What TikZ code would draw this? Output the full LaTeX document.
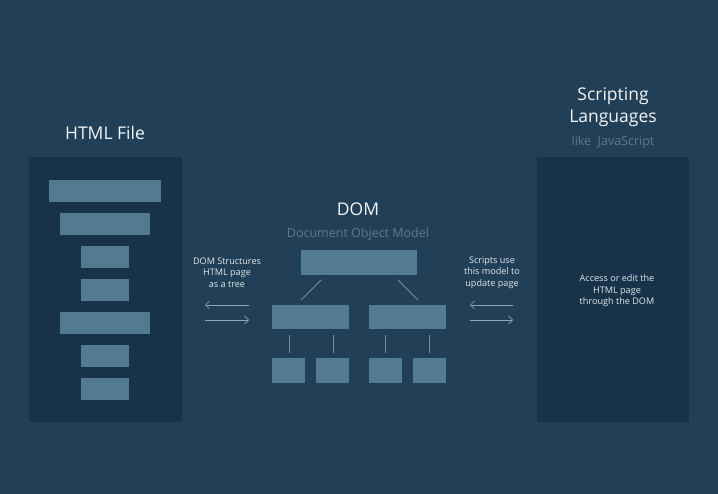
\documentclass[tikz,border=0pt]{standalone}
\usepackage{fontspec}
\setmainfont{Open Sans}
\usetikzlibrary{arrows.meta}
\definecolor{bg}{HTML}{213F56}
\definecolor{panel}{HTML}{183249}
\definecolor{bar}{HTML}{527A91}
\definecolor{treeline}{HTML}{6F8CA2}
\definecolor{arrowc}{HTML}{8FA5B6}
\definecolor{subtle}{HTML}{5E7A90}
\definecolor{titlec}{HTML}{F2F5F7}
\definecolor{smallc}{HTML}{E2E8ED}
\tikzset{
  panelbox/.style={fill=panel, draw=none},
  barbox/.style={fill=bar, draw=none},
  title/.style={text=titlec, font=\fontsize{17.5}{22}\selectfont, align=center, inner sep=0},
  subtitle/.style={text=subtle, font=\fontsize{12.5}{15}\selectfont, inner sep=0},
  small/.style={text=smallc, font=\fontsize{9.1}{11.6}\selectfont, align=center, inner sep=0},
  tline/.style={draw=treeline, line width=0.8pt},
  flow/.style={draw=arrowc, line width=0.7pt, -{Straight Barb[length=4pt,width=8pt]}},
}
\begin{document}
\begin{tikzpicture}[x=1pt,y=-1pt]
\fill[bg] (0,0) rectangle (718,494);
\useasboundingbox (0,0) rectangle (718,494);

% HTML file panel
\node[title] (htmltitle) at (105,133) {HTML File};
\fill[panelbox] (29,157) rectangle (182,422);
\path[barbox] (49,180) rectangle (161,202);
\path[barbox] (60,213) rectangle (150,235);
\path[barbox] (81,246) rectangle (129,268);
\path[barbox] (81,279) rectangle (129,301);
\path[barbox] (60,312) rectangle (150,334);
\path[barbox] (81,345) rectangle (129,367);
\path[barbox] (81,378) rectangle (129,400);

% Scripting panel
\node[title, text width=140pt] (scripttitle) at (613,107) {\baselineskip=21pt Scripting\\Languages};
\node[subtitle] (js) at (613,142) {like\ \ JavaScript};
\fill[panelbox] (537,157) rectangle (689,422);
\node[small] (access) at (617,291) {Access or edit the\\HTML page\\through the DOM};

% DOM
\node[title] (domtitle) at (358,209) {DOM};
\node[subtitle] (dommodel) at (358,234) {Document Object Model};
\node[barbox, minimum width=116pt, minimum height=25pt, inner sep=0] (root) at (359,262.5) {};
\node[barbox, minimum width=77pt, minimum height=24pt, inner sep=0] (ml) at (310.5,317) {};
\node[barbox, minimum width=77pt, minimum height=24pt, inner sep=0] (mr) at (407.5,317) {};
\node[barbox, minimum width=33pt, minimum height=25pt, inner sep=0] (l1) at (288.5,370.5) {};
\node[barbox, minimum width=33pt, minimum height=25pt, inner sep=0] (l2) at (332.5,370.5) {};
\node[barbox, minimum width=33pt, minimum height=25pt, inner sep=0] (l3) at (385.5,370.5) {};
\node[barbox, minimum width=33pt, minimum height=25pt, inner sep=0] (l4) at (429.5,370.5) {};

\coordinate (a1) at (321,280); \coordinate (a2) at (301,300);
\coordinate (b1) at (398,280); \coordinate (b2) at (418,300);
\draw[tline] (a1) -- (a2);
\draw[tline] (b1) -- (b2);
\draw[tline] (289,335) -- (289,353);
\draw[tline] (333,335) -- (333,353);
\draw[tline] (385,335) -- (385,353);
\draw[tline] (429,335) -- (429,353);

% side labels
\node[small] (lefttext) at (227,272.5) {DOM Structures\\HTML page\\as a tree};
\node[small] (righttext) at (492,272.5) {Scripts use\\this model to\\update page};

\coordinate (la1) at (249,305); \coordinate (la2) at (205,305);
\coordinate (lb1) at (205,320); \coordinate (lb2) at (249,320);
\coordinate (ra1) at (513,305); \coordinate (ra2) at (470,305);
\coordinate (rb1) at (470,320); \coordinate (rb2) at (513,320);
\draw[flow] (la1) -- (la2);
\draw[flow] (lb1) -- (lb2);
\draw[flow] (ra1) -- (ra2);
\draw[flow] (rb1) -- (rb2);
\end{tikzpicture}
\end{document}
